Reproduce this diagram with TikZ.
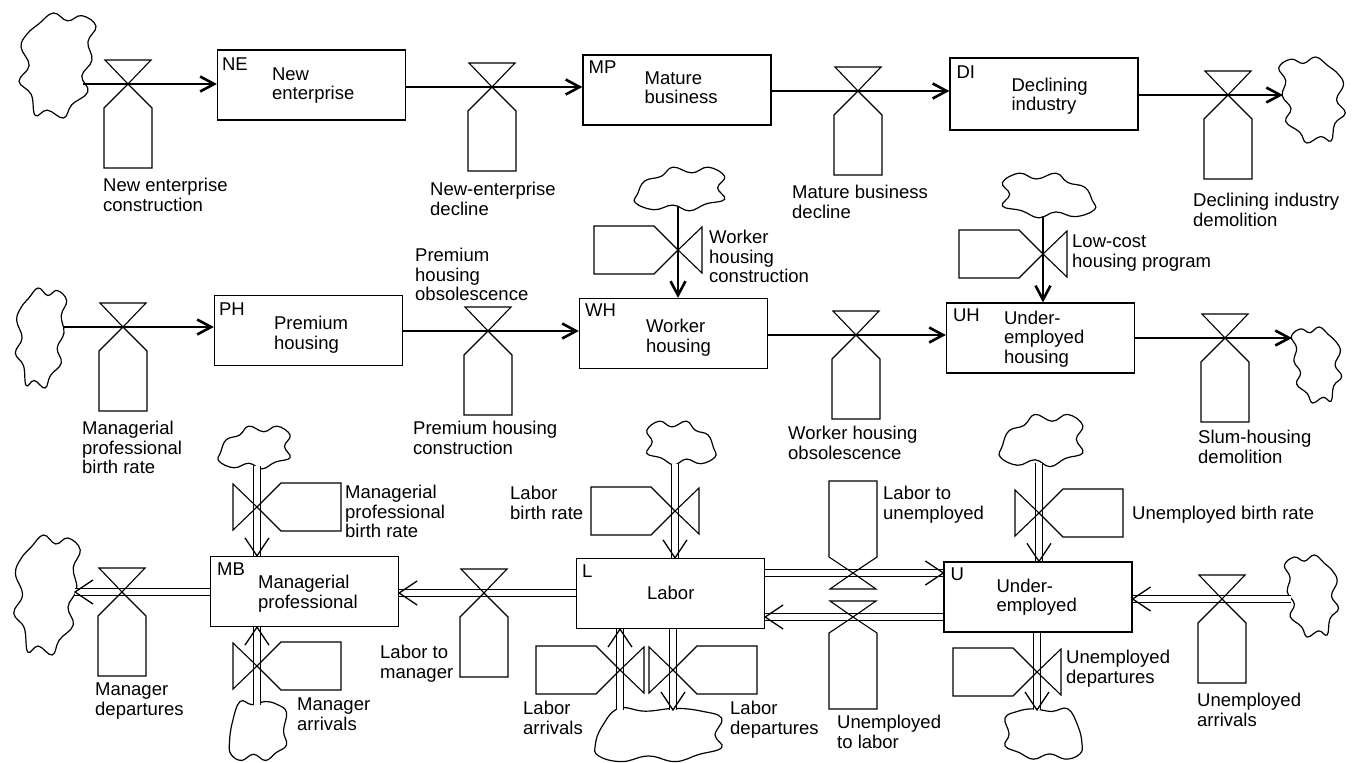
\documentclass[tikz,border=0pt]{standalone}
\usepackage{fontspec}
\setmainfont{Liberation Sans}
\usepackage{tikz}
\usetikzlibrary{arrows.meta}

\newcommand{\dynfont}{\fontsize{18.5}{19.5}\selectfont}

\begin{document}
\begin{tikzpicture}[
  x=1pt, y=-1pt,
  stock/.style={rectangle, draw, line width=1.2pt, inner sep=0pt,
    minimum width=188, minimum height=70},
  tag/.style={font=\dynfont, anchor=north west, inner sep=0pt},
  boxtext/.style={font=\dynfont, align=left, anchor=north west, inner sep=0pt},
  ratelbl/.style={font=\dynfont, align=left, anchor=north west, inner sep=0pt},
  flowline/.style={line width=2.6pt, -{Straight Barb[length=14pt, width=15pt]}},
  matflow/.style={double, double distance=5.5pt, line width=1.3pt},
  cloudline/.style={line width=1.2pt},
  pics/valve/.style={code={
    \draw[line width=1.1pt] (-23,-#1) -- (23,-#1) -- (0,0) -- cycle;
    \draw[line width=1.1pt] (0,0) -- (-24,#1) -- (-24,108-#1) -- (24,108-#1) -- (24,#1) -- cycle;
  }},
  pics/valve/.default=24,
  pics/barb/.style={code={\draw[line width=1.3pt] (-18,-12) -- (0,0) -- (-18,12);}},
  pics/blob tall/.style={code={\draw[cloudline] plot[smooth cycle, tension=0.7] coordinates {
    (-0.45,-0.8) (-0.1,-1.0) (0.25,-0.85) (0.6,-0.95) (0.95,-0.75) (0.75,-0.45)
    (0.85,-0.1) (0.6,0.2) (0.75,0.5) (0.35,0.75) (0.15,1.0) (-0.25,0.85)
    (-0.55,0.95) (-0.65,0.55) (-0.95,0.3) (-0.7,0.0) (-0.9,-0.35) (-0.75,-0.6)};}},
  pics/blob wide/.style={code={\draw[cloudline] plot[smooth cycle, tension=0.7] coordinates {
    (-0.9,0.2) (-0.75,-0.35) (-0.4,-0.55) (-0.15,-0.95) (0.25,-0.7) (0.6,-0.95)
    (0.95,-0.55) (0.8,-0.05) (0.95,0.45) (0.55,0.65) (0.2,0.95) (-0.15,0.7)
    (-0.55,0.9) (-0.95,0.6)};}},
  pics/blob flat/.style={code={\draw[cloudline] plot[smooth cycle, tension=0.7] coordinates {
    (-0.95,0.35) (-0.85,-0.3) (-0.6,-0.95) (-0.2,-0.85) (0.25,-0.95) (0.65,-0.85)
    (0.95,-0.6) (0.85,0) (0.95,0.45) (0.6,0.7) (0.25,0.95) (-0.15,0.75)
    (-0.55,0.95) (-0.9,0.75)};}},
]

\fill[white] (0,0) rectangle (1361,763);
\useasboundingbox (0,0) rectangle (1361,763);

% Levels
\node[stock] (NE) at (311.5,85) {};
\node[stock] (MP) at (677,90) {};
\node[stock, minimum height=72] (DI) at (1044,94) {};
\node[stock] (PH) at (308.5,330.5) {};
\node[stock] (WH) at (673.5,333.5) {};
\node[stock] (UH) at (1040.5,338) {};
\node[stock] (MB) at (304.5,591.5) {};
\node[stock] (L) at (670.5,593.5) {};
\node[stock] (U) at (1038,597) {};

\node[tag] (tNE) at ([shift={(5,8)}]NE.north west) {NE};
\node[tag] (tMP) at ([shift={(6,6)}]MP.north west) {MP};
\node[tag] (tDI) at ([shift={(7,8)}]DI.north west) {DI};
\node[tag] (tPH) at ([shift={(5,8)}]PH.north west) {PH};
\node[tag] (tWH) at ([shift={(6,6)}]WH.north west) {WH};
\node[tag] (tUH) at ([shift={(7,6)}]UH.north west) {UH};
\node[tag] (tMB) at ([shift={(7,7)}]MB.north west) {MB};
\node[tag] (tL) at ([shift={(6,7)}]L.north west) {L};
\node[tag] (tU) at ([shift={(7,6)}]U.north west) {U};

\node[boxtext] (nNE) at ([shift={(55,18)}]NE.north west) {New\\enterprise};
\node[boxtext] (nMP) at ([shift={(62,17)}]MP.north west) {Mature\\business};
\node[boxtext] (nDI) at ([shift={(62,20)}]DI.north west) {Declining\\industry};
\node[boxtext] (nPH) at ([shift={(60,21)}]PH.north west) {Premium\\housing};
\node[boxtext] (nWH) at ([shift={(67,21)}]WH.north west) {Worker\\housing};
\node[boxtext] (nUH) at ([shift={(58,8)}]UH.north west) {Under-\\employed\\housing};
\node[boxtext] (nMB) at ([shift={(48,19)}]MB.north west) {Managerial\\professional};
\node[boxtext] (nL) at ([shift={(71,28)}]L.north west) {Labor};
\node[boxtext] (nU) at ([shift={(53,17)}]U.north west) {Under-\\employed};

% Sources and sinks
\pic[xscale=40.5, yscale=52.5] at (57.5,65.5) {blob tall};
\pic[xscale=-35, yscale=43] at (1312,100) {blob tall};
\pic[xscale=27, yscale=50] at (41,338) {blob tall};
\pic[xscale=-26.5, yscale=38] at (1316.5,365) {blob tall};
\pic[xscale=47, yscale=23] at (680,189) {blob wide};
\pic[xscale=-48.5, yscale=23.5] at (1048.5,195.5) {blob wide};
\pic[xscale=35, yscale=60] at (47,595) {blob tall};
\pic[xscale=37.5, yscale=22.5] at (254.5,447.5) {blob wide};
\pic[xscale=30, yscale=31] at (258,731) {blob flat};
\pic[xscale=-36, yscale=23] at (681,443) {blob wide};
\pic[xscale=66.5, yscale=28] at (658.5,735) {blob flat};
\pic[xscale=43.5, yscale=27.5] at (1041.5,440.5) {blob wide};
\pic[xscale=-40.5, yscale=26.5] at (1043.5,734) {blob flat};
\pic[xscale=-28.5, yscale=41] at (1311.5,596) {blob tall};

\coordinate (cA) at (83,84);
\coordinate (cB) at (1283,95);
\coordinate (cC) at (63,327);
\coordinate (cD) at (1292,338);
\coordinate (cE) at (678,207);
\coordinate (cF) at (1043,216);
\coordinate (cG) at (75,592);
\coordinate (cH) at (257,466);
\coordinate (cI) at (257,705);
\coordinate (cJ) at (675,464);
\coordinate (cK1) at (620,710);
\coordinate (cK2) at (673,710);
\coordinate (cL) at (1039,463);
\coordinate (cM) at (1037,710);
\coordinate (cN) at (1291,599);

% Valve positions
\coordinate (v1) at (128,84);
\coordinate (v2) at (492,87);
\coordinate (v3) at (858,91);
\coordinate (v4) at (1228,95);
\coordinate (v5) at (123,327);
\coordinate (v6) at (488,331);
\coordinate (v7) at (856,335);
\coordinate (v8) at (1225,338);
\coordinate (v9) at (678,250);
\coordinate (v10) at (1043,254);
\coordinate (v11) at (122,592);
\coordinate (v12) at (484,593);
\coordinate (v13) at (257,507);
\coordinate (v14) at (257,666);
\coordinate (v15) at (675,511);
\coordinate (v16) at (620,670);
\coordinate (v17) at (673,670);
\coordinate (v18) at (853,573);
\coordinate (v19) at (853,617);
\coordinate (v20) at (1039,513);
\coordinate (v21) at (1037,672);
\coordinate (v22) at (1222,599);

% Business and housing flows
\draw[flowline] (cA) -- (cA -| NE.west);
\draw[flowline] (NE.east |- v2) -- (MP.west |- v2);
\draw[flowline] (MP.east |- v3) -- (DI.west |- v3);
\draw[flowline] (DI.east |- v4) -- (cB);
\draw[flowline] (cC) -- (cC -| PH.west);
\draw[flowline] (PH.east |- v6) -- (WH.west |- v6);
\draw[flowline] (WH.east |- v7) -- (UH.west |- v7);
\draw[flowline] (UH.east |- v8) -- (cD);
\draw[flowline] (cE) -- (cE |- WH.north);
\draw[flowline] (cF) -- (cF |- UH.north);

% Population flows
\draw[matflow] (MB.west |- v11) -- (cG);
\draw[matflow] (L.west |- v12) -- (MB.east |- v12);
\draw[matflow] (cH) -- (cH |- MB.north);
\draw[matflow] (cI) -- (cI |- MB.south);
\draw[matflow] (cJ) -- (cJ |- L.north);
\draw[matflow] (cK1) -- (cK1 |- L.south);
\draw[matflow] (L.south -| cK2) -- (cK2);
\draw[matflow] (L.east |- v18) -- (U.west |- v18);
\draw[matflow] (U.west |- v19) -- (L.east |- v19);
\draw[matflow] (cL) -- (cL |- U.north);
\draw[matflow] (U.south -| cM) -- (cM);
\draw[matflow] (cN) -- (U.east |- cN);

\pic[rotate=180] at (cG) {barb};
\pic[rotate=180] at (MB.east |- v12) {barb};
\pic[rotate=-90] at (cH |- MB.north) {barb};
\pic[rotate=90] at (cI |- MB.south) {barb};
\pic[rotate=-90] at (cJ |- L.north) {barb};
\pic[rotate=90] at (cK1 |- L.south) {barb};
\pic[rotate=-90] at (cK2) {barb};
\pic at (U.west |- v18) {barb};
\pic[rotate=180] at (L.east |- v19) {barb};
\pic[rotate=-90] at (cL |- U.north) {barb};
\pic[rotate=-90] at (cM) {barb};
\pic[rotate=180] at (U.east |- cN) {barb};

% Rates
\pic at (v1) {valve};
\pic at (v2) {valve};
\pic at (v3) {valve};
\pic at (v4) {valve};
\pic at (v5) {valve};
\pic at (v6) {valve};
\pic at (v7) {valve};
\pic at (v8) {valve};
\pic[rotate=-90] at (v9) {valve};
\pic[rotate=-90] at (v10) {valve};
\pic at (v11) {valve};
\pic at (v12) {valve};
\pic[rotate=90] at (v13) {valve};
\pic[rotate=90] at (v14) {valve};
\pic[rotate=-90] at (v15) {valve};
\pic[rotate=-90] at (v16) {valve};
\pic[rotate=90] at (v17) {valve};
\pic[rotate=180] at (v18) {valve=16};
\pic at (v19) {valve=16};
\pic[rotate=90] at (v20) {valve};
\pic[rotate=-90] at (v21) {valve};
\pic at (v22) {valve};

\node[ratelbl] (r1) at (103,178) {New enterprise\\construction};
\node[ratelbl] (r2) at (430,182) {New-enterprise\\decline};
\node[ratelbl] (r3) at (792,185) {Mature business\\decline};
\node[ratelbl] (r4) at (1193,193) {Declining industry\\demolition};
\node[ratelbl] (r5) at (709,230) {Worker\\housing\\construction};
\node[ratelbl] (r6) at (1072,235) {Low-cost\\housing program};
\node[ratelbl] (r7) at (82,421) {Managerial\\professional\\birth rate};
\node[ratelbl] (r8) at (415,248) {Premium\\housing\\obsolescence};
\node[ratelbl] (r9) at (413,421) {Premium housing\\construction};
\node[ratelbl] (r10) at (788,426) {Worker housing\\obsolescence};
\node[ratelbl] (r11) at (1198,430) {Slum-housing\\demolition};
\node[ratelbl] (r12) at (345,485) {Managerial\\professional\\birth rate};
\node[ratelbl] (r13) at (95,683) {Manager\\departures};
\node[ratelbl] (r14) at (297,698) {Manager\\arrivals};
\node[ratelbl] (r15) at (380,645) {Labor to\\manager};
\node[ratelbl] (r16) at (510,486) {Labor\\birth rate};
\node[ratelbl] (r17) at (523,701) {Labor\\arrivals};
\node[ratelbl] (r18) at (730,701) {Labor\\departures};
\node[ratelbl] (r19) at (883,486) {Labor to\\unemployed};
\node[ratelbl] (r20) at (837,715) {Unemployed\\to labor};
\node[ratelbl] (r21) at (1132,506) {Unemployed birth rate};
\node[ratelbl] (r22) at (1066,650) {Unemployed\\departures};
\node[ratelbl] (r23) at (1197,693) {Unemployed\\arrivals};

\end{tikzpicture}
\end{document}
